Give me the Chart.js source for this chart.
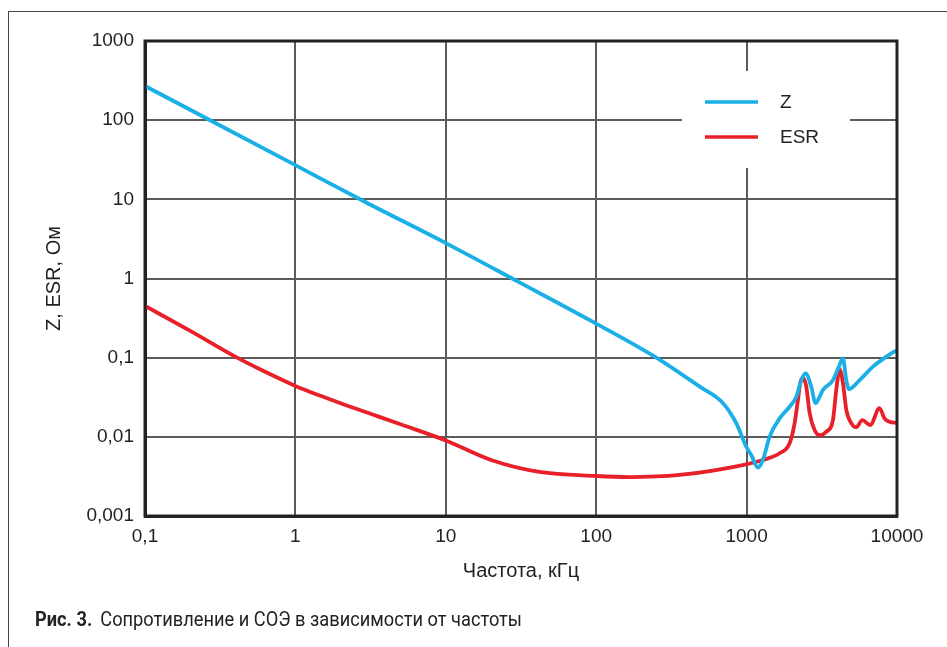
<!DOCTYPE html>
<html>
<head>
<meta charset="utf-8">
<script src="https://cdn.jsdelivr.net/npm/chart.js@4/dist/chart.umd.min.js"></script>
<style>
  html, body { margin: 0; padding: 0; background: #fff; }
  #wrap { position: relative; width: 947px; height: 647px; overflow: hidden; }
  #frame { position: absolute; left: 8px; top: 11px; width: 960px; height: 700px;
           border-top: 1.5px solid #444; border-left: 1.5px solid #444; }
  #caption { position: absolute; left: 35px; top: 607px; font-family: Roboto, "Liberation Sans", sans-serif;
             font-size: 20.5px; color: #222; white-space: nowrap; transform-origin: 0 0; transform: scaleX(0.89); }
  #caption b { font-weight: 700; margin-right: 4px; }
  canvas { position: absolute; left: 0; top: 0; }
</style>
</head>
<body>
<div id="wrap">
  <div id="frame"></div>
  <canvas id="mycanvas" width="947" height="647"></canvas>
  <div id="caption"><b>Рис. 3.</b> Сопротивление и СОЭ в зависимости от частоты</div>
</div>
<script>
// axis ticks (decades)
var xTicks = [0.1, 1, 10, 100, 1000, 10000];
var yTicks = [0.001, 0.01, 0.1, 1, 10, 100, 1000];

// Z, Ом vs частота, кГц
var zFreq = [0.1, 0.3, 1, 3, 10, 30, 90, 245, 488, 697, 855, 995, 1074, 1190, 1283, 1421, 1657, 1932, 2140, 2310, 2466, 2690, 2873, 3055, 3216, 3750, 4110, 4371, 4600, 4790, 5640, 6920, 8490, 10000];
var zVals = [270, 90, 27, 9, 2.8, 0.92, 0.30, 0.103, 0.043, 0.0266, 0.0148, 0.0075, 0.0059, 0.0041, 0.0051, 0.0100, 0.0171, 0.024, 0.032, 0.052, 0.0635, 0.043, 0.0266, 0.032, 0.039, 0.052, 0.077, 0.098, 0.052, 0.040, 0.052, 0.077, 0.103, 0.125];

// ESR, Ом vs частота, кГц
var esrFreq = [0.1, 0.2, 0.41, 0.6, 1, 1.5, 2, 3.3, 5, 10, 20, 42, 100, 166, 359, 944, 1283, 1657, 1932, 2085, 2193, 2275, 2367, 2494, 2624, 2832, 3055, 3388, 3750, 3946, 4150, 4371, 4600, 4970, 5360, 5880, 6640, 7650, 8260, 8910, 10000];
var esrVals = [0.45, 0.218, 0.1, 0.0693, 0.044, 0.0325, 0.0265, 0.019, 0.0144, 0.009, 0.0051, 0.0036, 0.0032, 0.0031, 0.0033, 0.0044, 0.0051, 0.0062, 0.0083, 0.0148, 0.029, 0.048, 0.056, 0.043, 0.020, 0.0122, 0.0105, 0.0116, 0.0163, 0.039, 0.071, 0.048, 0.022, 0.0148, 0.0132, 0.0163, 0.0141, 0.023, 0.0171, 0.0155, 0.015];

var seriesNames = ["Z", "ESR"];

function toPoints(xs, ys) {
  var pts = [];
  for (var i in xs) {
    pts.push({ x: xs[i], y: ys[i] });
  }
  return pts;
}

function fmt(v) {
  return String(v).replace('.', ',');
}

// white box with legend inside the plot
var boxLegend = {
  id: 'boxLegend',
  afterDatasetsDraw: function(chart) {
    var ctx = chart.ctx;
    ctx.save();
    ctx.fillStyle = '#fff';
    ctx.fillRect(682, 71, 168, 97);
    ctx.font = '19px "Liberation Sans", Arial, sans-serif';
    ctx.textBaseline = 'middle';
    chart.data.datasets.forEach(function(ds, i) {
      var y = 102 + i * 35;
      ctx.strokeStyle = ds.borderColor;
      ctx.lineWidth = 3.5;
      ctx.beginPath();
      ctx.moveTo(705, y);
      ctx.lineTo(758, y);
      ctx.stroke();
      ctx.fillStyle = '#222';
      ctx.fillText(ds.label, 780, y + 1);
    });
    ctx.restore();
  }
};

// heavy frame round the plot area
var plotFrame = {
  id: 'plotFrame',
  afterDraw: function(chart) {
    var a = chart.chartArea;
    var ctx = chart.ctx;
    ctx.save();
    ctx.strokeStyle = '#222';
    ctx.lineWidth = 3;
    ctx.strokeRect(a.left, a.top, a.right - a.left, a.bottom - a.top);
    ctx.restore();
  }
};

var chartdata = {
  datasets: [
    {
      label: seriesNames[0],
      data: toPoints(zFreq, zVals),
      borderColor: "#1aafe6",
      borderWidth: 3.8,
      pointRadius: 0,
      fill: false,
      cubicInterpolationMode: 'monotone'
    },
    {
      label: seriesNames[1],
      data: toPoints(esrFreq, esrVals),
      borderColor: "#e8202a",
      borderWidth: 3.8,
      pointRadius: 0,
      fill: false,
      cubicInterpolationMode: 'monotone'
    }
  ]
};

var ctx = document.getElementById('mycanvas');

var LineGraph = new Chart(ctx, {
  type: 'line',
  data: chartdata,
  plugins: [boxLegend, plotFrame],
  options: {
    responsive: false,
    animation: false,
    layout: { padding: { left: 0, top: 41, right: 50, bottom: 60 } },
    plugins: { legend: { display: false }, tooltip: { enabled: false } },
    scales: {
      x: {
        type: 'logarithmic',
        min: 0.1,
        max: 10000,
        afterBuildTicks: function(scale) {
          scale.ticks = xTicks.map(function(v) { return { value: v }; });
        },
        afterFit: function(scale) { scale.height = 71; },
        grid: { color: '#5b5b5b', lineWidth: 2, drawTicks: false },
        border: { color: '#222', width: 3 },
        ticks: {
          autoSkip: false, maxRotation: 0, padding: 9,
          color: '#222',
          font: { family: '"Liberation Sans", Arial, sans-serif', size: 19 },
          callback: function(v) { return fmt(v); }
        },
        title: {
          display: true, text: 'Частота, кГц', color: '#222',
          font: { family: '"Liberation Sans", Arial, sans-serif', size: 20 },
          padding: { top: 0, bottom: 4 }
        }
      },
      y: {
        type: 'logarithmic',
        min: 0.001,
        max: 1000,
        afterBuildTicks: function(scale) {
          scale.ticks = yTicks.map(function(v) { return { value: v }; });
        },
        afterFit: function(scale) { scale.width = 145; },
        grid: { color: '#5b5b5b', lineWidth: 2, drawTicks: false },
        border: { color: '#222', width: 3 },
        ticks: {
          autoSkip: false, padding: 11,
          color: '#222',
          font: { family: '"Liberation Sans", Arial, sans-serif', size: 19 },
          callback: function(v) { return fmt(v); }
        },
        title: {
          display: true, text: 'Z, ESR, Ом', color: '#222',
          font: { family: '"Liberation Sans", Arial, sans-serif', size: 20 },
          padding: { top: 42, bottom: 0 }
        }
      }
    }
  }
});
</script>
</body>
</html>
